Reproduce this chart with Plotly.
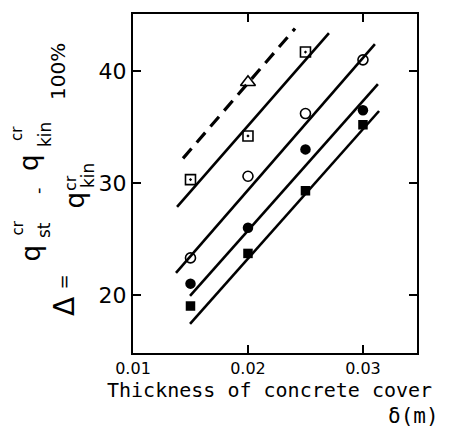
import plotly.graph_objects as go

# ---- data ----
x_sq_dot = [0.015, 0.020, 0.025]
y_sq_dot = [30.3, 34.2, 41.7]

x_tri = [0.020]
y_tri = [39.0]

x_open_c = [0.015, 0.020, 0.025, 0.030]
y_open_c = [23.3, 30.6, 36.2, 41.0]

x_fill_c = [0.015, 0.020, 0.025, 0.030]
y_fill_c = [21.0, 26.0, 33.0, 36.5]

x_fill_sq = [0.015, 0.020, 0.025, 0.030]
y_fill_sq = [19.0, 23.7, 29.3, 35.2]

# fitted lines (end points)
dash_x = [0.01435, 0.02409]
dash_y = [32.2, 43.8]
line_sq_x = [0.01383, 0.02704]
line_sq_y = [27.86, 43.4]
line_oc_x = [0.01374, 0.03104]
line_oc_y = [21.96, 42.4]
line_fc_x = [0.01496, 0.0313]
line_fc_y = [19.9, 38.84]
line_fs_x = [0.01496, 0.0314]
line_fs_y = [17.4, 36.43]

x_ticks = [0.01, 0.02, 0.03]
x_tick_text = ["0.01", "0.02", "0.03"]
y_ticks = [20, 30, 40]

FONT = "DejaVu Sans"
MONO = "DejaVu Sans Mono"
OFF = 8  # page body margin offset
W, H = 442, 422
# plot area in screen pixels: x 133..417, y 14..353
L = 133 - OFF
T = 14 - OFF
R = W - (417 - OFF)
B = H - (353 - OFF)

fig = go.Figure()

line_style = dict(color="black", width=2.6)
for lx, ly in [(line_sq_x, line_sq_y), (line_oc_x, line_oc_y),
               (line_fc_x, line_fc_y), (line_fs_x, line_fs_y)]:
    fig.add_trace(go.Scatter(x=lx, y=ly, mode="lines", line=line_style,
                             showlegend=False, hoverinfo="skip"))
fig.add_trace(go.Scatter(x=dash_x, y=dash_y, mode="lines",
                         line=dict(color="black", width=3.2, dash="13px,8px"),
                         showlegend=False))

mk_line = dict(color="black", width=1.6)
fig.add_trace(go.Scatter(x=x_sq_dot, y=y_sq_dot, mode="markers",
                         marker=dict(symbol="square-open-dot", size=10, color="black", line=mk_line),
                         showlegend=False))
fig.add_trace(go.Scatter(x=x_tri, y=y_tri, mode="markers",
                         marker=dict(symbol="triangle-up-open", size=13, color="black", line=mk_line),
                         showlegend=False))
fig.add_trace(go.Scatter(x=x_open_c, y=y_open_c, mode="markers",
                         marker=dict(symbol="circle-open", size=10, color="black", line=mk_line),
                         showlegend=False))
fig.add_trace(go.Scatter(x=x_fill_c, y=y_fill_c, mode="markers",
                         marker=dict(symbol="circle", size=10.5, color="black"),
                         showlegend=False))
fig.add_trace(go.Scatter(x=x_fill_sq, y=y_fill_sq, mode="markers",
                         marker=dict(symbol="square", size=9.5, color="black"),
                         showlegend=False))

axis_common = dict(showgrid=False, zeroline=False, showline=True, linecolor="black",
                   linewidth=2, mirror="ticks", ticks="inside", ticklen=8,
                   tickwidth=1.5, tickcolor="black")

fig.update_xaxes(range=[0.01, 0.0347], tickvals=x_ticks, ticktext=x_tick_text,
                 tickfont=dict(family=FONT, size=16, color="black"), **axis_common)
fig.update_yaxes(range=[14.8, 45.1], tickvals=y_ticks, ticklabelstandoff=0,
                 tickfont=dict(family=FONT, size=22, color="black"), **axis_common)

pw, ph = W - L - R, H - T - B


def px(xs, ys):
    # screen pixel -> paper coords
    xf, yf = xs - OFF, ys - OFF
    return (xf - L) / pw, 1 - (yf - T) / ph


def ann(text, cx, cy, size, angle=-90, family=FONT):
    x, y = px(cx, cy)
    fig.add_annotation(text=text, x=x, y=y, xref="paper", yref="paper",
                       xanchor="center", yanchor="middle", showarrow=False,
                       textangle=angle, font=dict(family=family, size=size, color="black"))


# y-axis label pieces (rotated)
ann("100%", 58, 72, 20)
ann("q", 29, 163, 26)
ann("cr", 17, 134, 15)
ann("kin", 45, 135, 17)
ann("-", 37, 191, 18)
ann("q", 30.5, 253, 26)
ann("cr", 17.5, 228, 15)
ann("st", 44, 230, 17)
ann("q", 74.5, 200, 26)
ann("cr", 70, 183, 16)
ann("kin", 88, 176, 17)
ann("=", 62.5, 282, 18)
ann("Δ", 64, 307, 28)

# x-axis title
ann("Thickness of concrete cover", 269, 390, 20, angle=0, family=MONO)
ann("δ(m)", 413, 416, 21, angle=0, family=MONO)

fig.update_layout(width=W, height=H, margin=dict(l=L, r=R, t=T, b=B, autoexpand=False),
                  plot_bgcolor="white", paper_bgcolor="white", showlegend=False)

fig.write_html("out.html")
